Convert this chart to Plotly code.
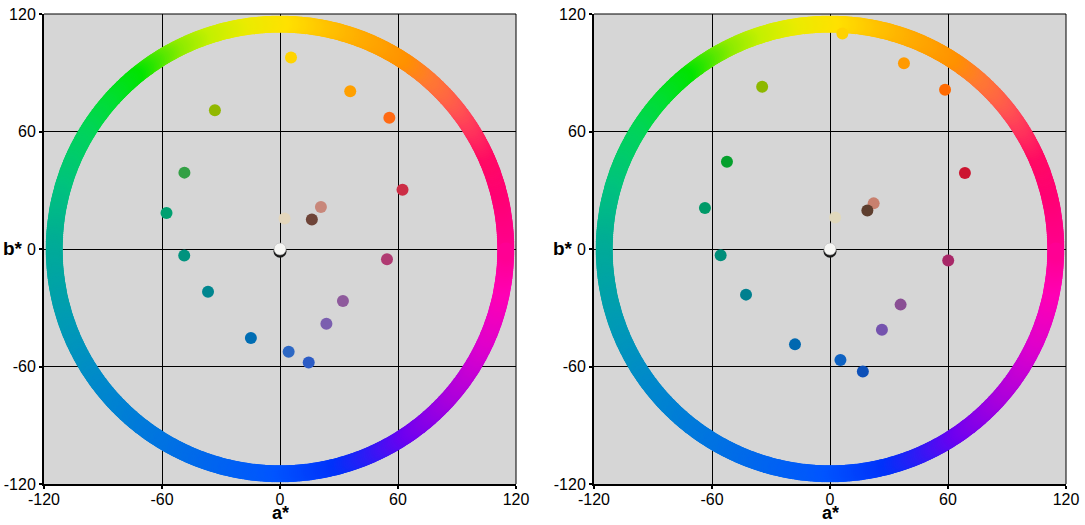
import numpy as np
import plotly.graph_objects as go

# ---- sample chromaticities (CIELAB a*, b*) ----
a_left = [5.6, 35.7, 55.6, -33.1, -48.6, -57.7, -48.7, -36.6, -14.8, 4.4,
          14.6, 23.6, 32.0, 54.4, 62.3, 20.8, 16.2, 2.3]
b_left = [97.8, 80.5, 67.0, 70.8, 39.0, 18.4, -3.3, -21.8, -45.4, -52.5,
          -58.0, -38.2, -26.6, -5.2, 30.3, 21.4, 15.1, 15.6]
colors_left = ["#FFD400", "#FFA000", "#FF6A14", "#91B800", "#33A045", "#00A070",
               "#00937E", "#00868F", "#006DB3", "#2D68C4", "#2C5CC5", "#7B5FAF",
               "#8E5A9C", "#B03A72", "#CC2D45", "#C8877A", "#6E4438", "#E3D6BC"]

a_right = [6.3, 37.6, 58.5, -34.5, -52.4, -63.6, -55.6, -42.7, -17.8, 5.3,
           16.7, 26.4, 35.9, 60.1, 68.6, 22.2, 19.0, 2.6]
b_right = [110.1, 94.9, 81.3, 82.8, 44.6, 20.9, -3.2, -23.3, -48.7, -56.7,
           -62.5, -41.2, -28.4, -5.9, 38.8, 23.3, 19.7, 16.1]
colors_right = ["#FFD200", "#FF9A00", "#FF6A00", "#8DB800", "#05A02D", "#009A68",
                "#008E7A", "#00808F", "#0068B0", "#0E62C2", "#0D50B8", "#7553AE",
                "#8A4F94", "#A82868", "#CC1530", "#C8806E", "#5E3E2E", "#E0D8BC"]

# neutral (achromatic) reference
a_white = [0.0]
b_white = [0.0]

# ---- hue reference ring ----
ring_radius = 114.8
ring_hue_stops = [0, 15, 25, 35, 40, 45, 50, 58, 70, 80, 90, 100, 110, 118, 125,
                  130, 140, 150, 165, 180, 200, 220, 240, 255, 270, 285, 295,
                  305, 320, 335, 350, 360]
ring_rgb_stops = [(255, 0, 145), (255, 0, 115), (255, 10, 100), (255, 60, 90),
                  (255, 85, 80), (255, 105, 65), (255, 120, 50), (255, 145, 0),
                  (255, 170, 0), (255, 195, 0), (255, 225, 0), (235, 235, 0),
                  (195, 240, 0), (140, 235, 0), (60, 230, 0), (0, 228, 0),
                  (0, 222, 50), (0, 212, 90), (0, 195, 125), (0, 172, 150),
                  (0, 155, 180), (0, 135, 205), (0, 115, 225), (0, 100, 240),
                  (0, 85, 255), (0, 50, 250), (50, 25, 245), (110, 0, 240),
                  (170, 0, 220), (220, 0, 205), (255, 0, 180), (255, 0, 145)]

tick_vals = [-120, -60, 0, 60, 120]
tick_text = ["-120", "-60", "0", "60", "120"]

hue = np.arange(0, 360, 0.5)
stops = np.array(ring_rgb_stops, dtype=float)
rgb = np.stack([np.interp(hue, ring_hue_stops, stops[:, k]) for k in range(3)], axis=1)
ring_colors = ["rgb(%d,%d,%d)" % tuple(np.round(c).astype(int)) for c in rgb]
ring_x = ring_radius * np.cos(np.radians(hue))
ring_y = ring_radius * np.sin(np.radians(hue))

fig = go.Figure()

panels = [("x", "y", a_left, b_left, colors_left),
          ("x2", "y2", a_right, b_right, colors_right)]

for xa, ya, av, bv, cv in panels:
    fig.add_trace(go.Scatter(x=ring_x, y=ring_y, xaxis=xa, yaxis=ya, mode="markers",
                             marker=dict(size=17, color=ring_colors, line=dict(width=0)),
                             hoverinfo="skip", showlegend=False))
    fig.add_trace(go.Scatter(x=av, y=bv, xaxis=xa, yaxis=ya, mode="markers",
                             marker=dict(size=12, color=cv, line=dict(width=0)),
                             showlegend=False))
    # shaded white sphere at the origin
    fig.add_trace(go.Scatter(x=a_white, y=[v - 1.1 for v in b_white], xaxis=xa, yaxis=ya,
                             mode="markers",
                             marker=dict(size=13, color="#1a1a1a", line=dict(width=0)),
                             hoverinfo="skip", showlegend=False))
    fig.add_trace(go.Scatter(x=a_white, y=b_white, xaxis=xa, yaxis=ya, mode="markers",
                             marker=dict(size=12, color="#F7F7F5",
                                         line=dict(width=0.6, color="#bbbbbb")),
                             showlegend=False))

font = dict(family="Liberation Sans, Arial, Helvetica, sans-serif", size=16, color="black")

axis_common = dict(range=[-120, 120], tickvals=tick_vals, ticktext=tick_text,
                   automargin=False,
                   showgrid=True, gridcolor="black", gridwidth=1,
                   zeroline=True, zerolinecolor="black", zerolinewidth=1,
                   showline=True, linecolor="black", linewidth=2, mirror=False,
                   ticks="outside", ticklen=3, tickwidth=2, tickcolor="black",
                   tickfont=font, fixedrange=True)

y_dom = [41 / 525, 511 / 525]
fig.update_layout(
    template="none",
    width=1085, height=525,
    margin=dict(l=0, r=0, t=0, b=0, autoexpand=False),
    paper_bgcolor="white", plot_bgcolor="#D6D6D6",
    font=font,
    xaxis=dict(domain=[44 / 1085, 516 / 1085], anchor="y", ticklabelstandoff=-3,
               **axis_common),
    yaxis=dict(domain=y_dom, anchor="x", **axis_common),
    xaxis2=dict(domain=[594 / 1085, 1066 / 1085], anchor="y2", ticklabelstandoff=-3,
                **axis_common),
    yaxis2=dict(domain=y_dom, anchor="x2", **axis_common),
)

# thin top/right frame lines and axis titles for both panels
for xa, ya in [("x", "y"), ("x2", "y2")]:
    fig.add_shape(type="line", xref=xa + " domain", yref=ya + " domain",
                  x0=0, x1=1, y0=1, y1=1, line=dict(color="black", width=1))
    fig.add_shape(type="line", xref=xa + " domain", yref=ya + " domain",
                  x0=1, x1=1, y0=0, y1=1, line=dict(color="black", width=1))
    fig.add_annotation(text="<b>a*</b>", xref=xa, yref="paper", x=0, y=0,
                       xanchor="center", yanchor="bottom", yshift=0, showarrow=False,
                       height=18, valign="bottom",
                       font=dict(family=font["family"], size=18, color="black"))
    fig.add_annotation(text="<b>b*</b>", xref=xa + " domain", yref=ya, x=0, y=0,
                       xanchor="right", yanchor="middle", xshift=-19, showarrow=False,
                       font=dict(family=font["family"], size=19, color="black"))

fig.write_html("out.html")
